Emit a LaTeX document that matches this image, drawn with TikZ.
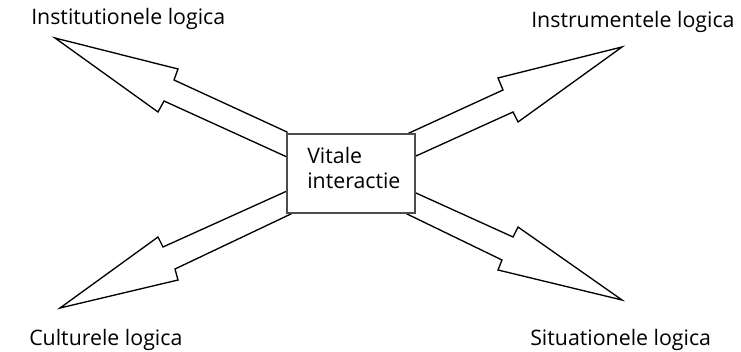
\documentclass[tikz,border=0pt]{standalone}
\usepackage{fontspec}
\setmainfont{Open Sans}
\begin{document}
\begin{tikzpicture}[x=0.75pt,y=-0.75pt,
  bigarrow/.style={draw=black,line width=1pt,fill=white,line join=miter},
  label/.style={anchor=base west,inner sep=0pt,font=\fontsize{16}{18}\selectfont},
  centrebox/.style={draw=black!70,line width=0.9pt,fill=white}]
  \useasboundingbox (0,0) rectangle (741,352);

  % four broken arrows radiating from the centre
  \draw[bigarrow] (55,38) -- (178,69) -- (174,80) -- (287,132) -- (287,157)
    -- (164,101) -- (158,112) -- cycle;
  \draw[bigarrow] (622,47) -- (498,78) -- (503,90) -- (407,134) -- (416,156)
    -- (513,112) -- (518,122) -- cycle;
  \draw[bigarrow] (60,308) -- (158,237) -- (163,247) -- (287,191) -- (293,213)
    -- (175,269) -- (178,280) -- cycle;
  \draw[bigarrow] (622,300) -- (518,227) -- (513,237) -- (416,193) -- (405,213)
    -- (502,260) -- (498,270) -- cycle;

  % central box
  \draw[centrebox] (287,134) rectangle (415,213);
  \node[label] (vitale) at (307,164) {Vitale};
  \node[label] (inter) at (307,189) {interactie};

  % corner labels
  \node[label] (inst) at (31,25) {Institutionele logica};
  \node[label] (instr) at (531,28) {Instrumentele logica};
  \node[label] (cult) at (29,345) {Culturele logica};
  \node[label] (sit) at (530,345) {Situationele logica};
\end{tikzpicture}
\end{document}
